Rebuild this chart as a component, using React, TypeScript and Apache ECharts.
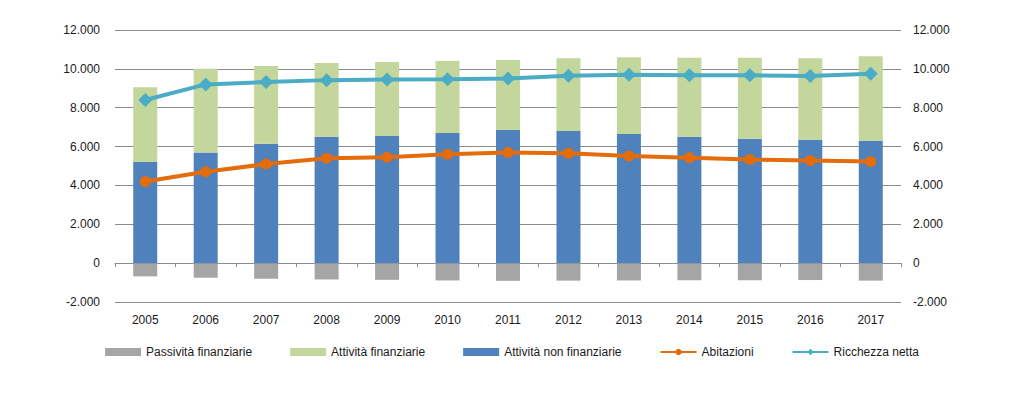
import React, { useEffect, useRef } from "react";
import * as echarts from "echarts";

const years = ["2005","2006","2007","2008","2009","2010","2011","2012","2013","2014","2015","2016","2017"];
const passivita = [-680, -750, -800, -840, -860, -890, -910, -900, -890, -880, -880, -870, -900];
const attivitaNonFin = [5200, 5700, 6150, 6500, 6550, 6700, 6850, 6800, 6650, 6500, 6400, 6350, 6300];
const attivitaFin = [3850, 4300, 4000, 3800, 3800, 3700, 3600, 3750, 3950, 4070, 4170, 4200, 4350];
const abitazioni = [4200, 4700, 5100, 5400, 5450, 5600, 5700, 5650, 5520, 5420, 5330, 5280, 5230];
const ricchezza = [8400, 9200, 9320, 9420, 9450, 9460, 9500, 9650, 9700, 9670, 9670, 9630, 9750];

const fmt = (v: number) => {
  const s = Math.abs(v).toString().replace(/\B(?=(\d{3})+(?!\d))/g, ".");
  return (v < 0 ? "-" : "") + s;
};

const FONT = "'Liberation Sans', Arial, sans-serif";
const TXT = "#1a1a1a";
const GRID = "#8c8c8c";
const Y_MIN = -2000;
const Y_MAX = 12000;
const PLOT_H = 396 - 30 - 94;

export default function App() {
  const ref = useRef<HTMLDivElement>(null);
  useEffect(() => {
    document.body.style.margin = "0";
    const chart = echarts.init(ref.current!, undefined, { renderer: "svg" });
    const zeroOffset = -(PLOT_H * (0 - Y_MIN)) / (Y_MAX - Y_MIN);
    chart.setOption({
      animation: false,
      textStyle: { fontFamily: FONT, color: TXT },
      grid: { left: 115, right: 123, top: 30, bottom: 94 },
      legend: {
        bottom: 33,
        left: "center",
        itemWidth: 36,
        itemHeight: 8,
        itemGap: 38,
        textStyle: { fontFamily: FONT, fontSize: 12, color: TXT },
        data: [
          { name: "Passività finanziarie", icon: "rect" },
          { name: "Attività finanziarie", icon: "rect" },
          { name: "Attività non finanziarie", icon: "rect" },
          "Abitazioni",
          "Ricchezza netta",
        ],
      },
      xAxis: [
        {
          type: "category",
          data: years,
          boundaryGap: true,
          position: "bottom",
          axisLine: { show: false, onZero: false },
          axisTick: { show: false },
          axisLabel: { margin: 12, fontSize: 12, color: TXT, fontFamily: FONT },
        },
        {
          type: "category",
          data: years,
          boundaryGap: true,
          position: "bottom",
          offset: zeroOffset,
          axisLine: { show: true, onZero: false, lineStyle: { color: GRID, width: 1 } },
          axisTick: { show: true, length: 4, inside: false, lineStyle: { color: GRID } },
          axisLabel: { show: false },
          z: 1,
        },
      ],
      yAxis: [
        {
          type: "value",
          min: Y_MIN,
          max: Y_MAX,
          interval: 2000,
          axisLine: { show: false },
          axisTick: { show: false },
          axisLabel: { formatter: fmt, margin: 15, fontSize: 12, color: TXT, fontFamily: FONT },
          splitLine: { lineStyle: { color: GRID, width: 1 } },
        },
        {
          type: "value",
          min: Y_MIN,
          max: Y_MAX,
          interval: 2000,
          position: "right",
          axisLine: { show: false },
          axisTick: { show: false },
          axisLabel: { formatter: fmt, margin: 12, fontSize: 12, color: TXT, fontFamily: FONT },
          splitLine: { show: false },
        },
      ],
      series: [
        {
          name: "Passività finanziarie",
          type: "bar",
          stack: "tot",
          barWidth: 24,
          data: passivita,
          itemStyle: { color: "#A5A5A5" },
        },
        {
          name: "Attività non finanziarie",
          type: "bar",
          stack: "tot",
          barWidth: 24,
          data: attivitaNonFin,
          itemStyle: { color: "#4F81BD" },
        },
        {
          name: "Attività finanziarie",
          type: "bar",
          stack: "tot",
          barWidth: 24,
          data: attivitaFin,
          itemStyle: { color: "#C3D69B" },
        },
        {
          name: "Abitazioni",
          type: "line",
          yAxisIndex: 1,
          data: abitazioni,
          symbol: "circle",
          symbolSize: 11,
          lineStyle: { color: "#E46C0A", width: 4 },
          itemStyle: { color: "#E46C0A" },
          z: 5,
        },
        {
          name: "Ricchezza netta",
          type: "line",
          yAxisIndex: 1,
          data: ricchezza,
          symbol: "diamond",
          symbolSize: 14,
          lineStyle: { color: "#4BACC6", width: 4 },
          itemStyle: { color: "#4BACC6" },
          z: 5,
        },
      ],
    });
    return () => chart.dispose();
  }, []);
  return <div ref={ref} style={{ width: 1024, height: 396 }} />;
}
